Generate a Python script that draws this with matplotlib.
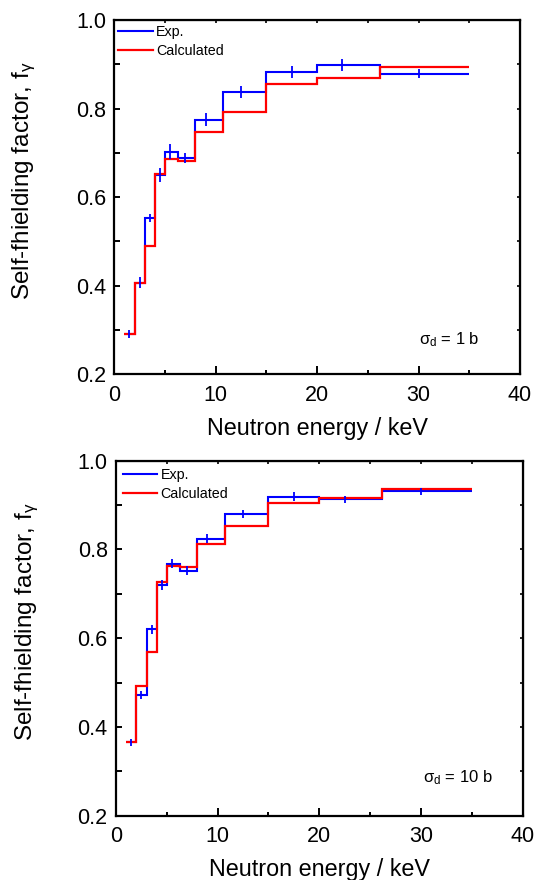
import matplotlib
matplotlib.use('Agg')
import matplotlib.pyplot as plt
from matplotlib.ticker import MultipleLocator

plt.rcParams['font.family'] = ['Liberation Sans', 'DejaVu Sans']
plt.rcParams['mathtext.fontset'] = 'custom'
plt.rcParams['mathtext.rm'] = 'Liberation Sans'
plt.rcParams['mathtext.it'] = 'Liberation Sans'

# energy bin edges (keV) and exp. point positions
edges = [1, 2, 3, 4, 5, 6.3, 8, 10.7, 15, 20, 26.2, 35]
exp_x = [1.5, 2.5, 3.5, 4.5, 5.5, 7, 9, 12.5, 17.5, 22.5, 30]

# sigma_d = 1 b
exp_1b = [0.291, 0.407, 0.553, 0.650, 0.703, 0.688, 0.775, 0.838, 0.883, 0.899, 0.879]
err_1b = [0.010, 0.012, 0.010, 0.015, 0.016, 0.012, 0.015, 0.014, 0.014, 0.014, 0.011]
calc_1b = [0.291, 0.405, 0.489, 0.652, 0.685, 0.682, 0.746, 0.793, 0.856, 0.868, 0.893]

# sigma_d = 10 b
exp_10b = [0.365, 0.472, 0.620, 0.720, 0.768, 0.752, 0.824, 0.879, 0.919, 0.913, 0.931]
err_10b = [0.008, 0.009, 0.010, 0.012, 0.010, 0.010, 0.010, 0.009, 0.010, 0.008, 0.008]
calc_10b = [0.365, 0.492, 0.568, 0.726, 0.762, 0.761, 0.813, 0.853, 0.905, 0.916, 0.936]

panels = [
    (exp_1b, err_1b, calc_1b, r'$\sigma_{\mathrm{d}}$ = 1 b', 30.0, 0.278),
    (exp_10b, err_10b, calc_10b, r'$\sigma_{\mathrm{d}}$ = 10 b', 30.2, 0.285),
]
# axes rectangles (figure fraction)
rects = [[0.2093, 0.5747, 0.743, 0.4026], [0.2125, 0.0731, 0.7445, 0.4034]]
leg_pos = [(0.010, 0.985), (0.0165, 0.979)]
xlab_y = [-0.122, -0.118]
ylab_x = [-0.188, -0.185]

fig = plt.figure(figsize=(5.46, 8.8), dpi=100)

for i, (ex, er, ca, note, nx, ny) in enumerate(panels):
    ax = fig.add_axes(rects[i])
    ax.stairs(ex, edges, baseline=None, color='#0000ff', lw=1.5, label='Exp.')
    ax.stairs(ca, edges, baseline=None, color='#ff0000', lw=1.6, label='Calculated')
    ax.errorbar(exp_x, ex, yerr=er, fmt='none', ecolor='#0000ff', elinewidth=1.3, capsize=0)

    ax.set_xlim(0, 40)
    ax.set_ylim(0.2, 1.0)
    ax.xaxis.set_major_locator(MultipleLocator(10))
    ax.xaxis.set_minor_locator(MultipleLocator(5))
    ax.yaxis.set_major_locator(MultipleLocator(0.2))
    ax.yaxis.set_minor_locator(MultipleLocator(0.1))
    ax.tick_params(which='both', direction='in', width=1.4, labelsize=15.5)
    ax.tick_params(axis='x', which='major', length=5.8, pad=7.5)
    ax.tick_params(axis='x', which='minor', length=3)
    ax.tick_params(axis='y', which='both', length=4.5, pad=6)
    ax.yaxis.set_major_formatter(plt.FormatStrFormatter('%.1f'))
    for s in ax.spines.values():
        s.set_linewidth(1.6)

    # small ticks on top and right
    top = ax.secondary_xaxis('top')
    top.xaxis.set_major_locator(MultipleLocator(5))
    top.tick_params(direction='in', length=2.2, width=1.2, labeltop=False)
    right = ax.secondary_yaxis('right')
    right.yaxis.set_major_locator(MultipleLocator(0.1))
    right.tick_params(direction='in', length=2.2, width=1.2, labelright=False)

    ax.set_xlabel('Neutron energy / keV', fontsize=16.8)
    ax.xaxis.set_label_coords(0.5, xlab_y[i])
    ax.set_ylabel(r'Self-fhielding factor, f$_{\gamma}$', fontsize=17.5)
    ax.yaxis.set_label_coords(ylab_x[i], 0.546)

    ax.legend(loc='upper left', bbox_to_anchor=leg_pos[i], frameon=False, fontsize=10.3,
              handlelength=2.4, handletextpad=0.25, labelspacing=0.35,
              borderpad=0, borderaxespad=0)
    ax.text(nx, ny, note, fontsize=12, ha='left', va='center')

plt.savefig('out.png', dpi=100)
